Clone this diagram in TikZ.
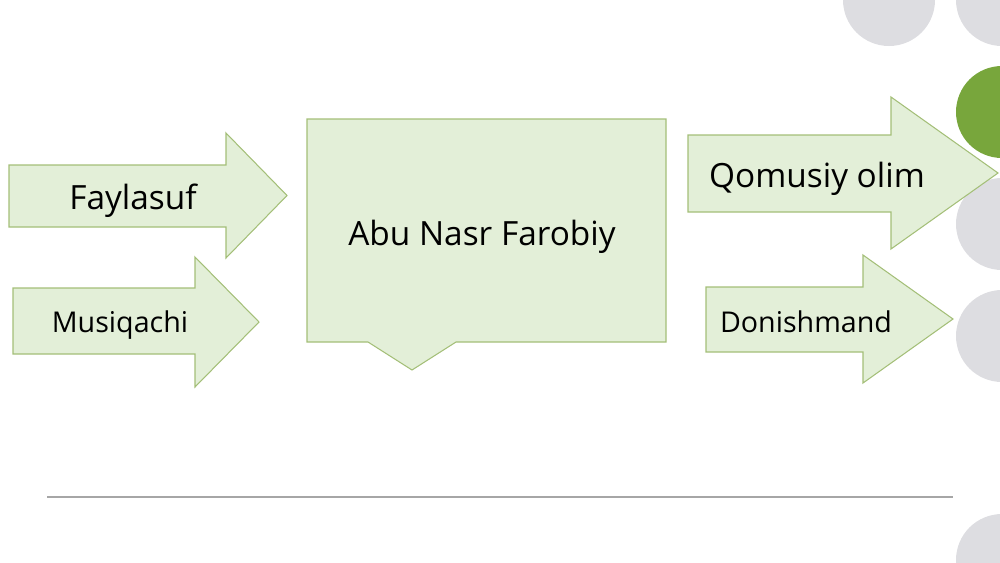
\documentclass[tikz,border=0pt]{standalone}
\usepackage{fontspec}
\setmainfont{Open Sans}
\usepackage{tikz}
\usetikzlibrary{calc,positioning}

\definecolor{leaf}{HTML}{E3EFD8}
\definecolor{leafline}{HTML}{A4BF78}
\definecolor{dotgray}{HTML}{DDDDE1}
\definecolor{dotgreen}{HTML}{78A63C}
\definecolor{rulegray}{HTML}{A6A6A6}

\begin{document}
\begin{tikzpicture}[x=0.02cm,y=-0.02cm,
    leafshape/.style={fill=leaf,draw=leafline,line width=0.6pt,line join=miter},
    big/.style={font=\fontsize{19}{22}\selectfont},
    small/.style={font=\fontsize{16.3}{19}\selectfont}]
        \useasboundingbox (0,0) rectangle (1000,562);

        % decoration dots on the right
        \fill[dotgray] (889,0) circle (46);
        \foreach \y in {0,224,336,560} {
          \fill[dotgray] (1002,\y) circle (46);
        }
        \fill[dotgreen] (1002,112) circle (46);

        % arrows: body left / top / bottom, head base / top / bottom, tip
        \foreach \xl/\yt/\yb/\xh/\ht/\hb/\xt in {9/165/227/226/133/258/287,
                                               13/288/354/195/257/387/259,
                                               688/135/212/891/97/249/998,
                                               706/287/352/863/255/383/953} {
          \draw[leafshape] (\xl,\yt) -- (\xh,\yt) -- (\xh,\ht) -- (\xt,{(\ht+\hb)/2})
            -- (\xh,\hb) -- (\xh,\yb) -- (\xl,\yb) -- cycle;
        }

        % callout box in the middle
        \draw[leafshape] (307,119) -- (666,119) -- (666,342) -- (456,342) -- (412,370)
          -- (368,342) -- (307,342) -- cycle;

        \node[big] (farobiy) at (482,237) {Abu Nasr Farobiy};
        \node[big] (faylasuf) at (133,201) {Faylasuf};
        \node[small] (musiqachi) at (120,325) {Musiqachi};
        \node[big] (qomusiy) at (817,179) {Qomusiy olim};
        \node[small] (donishmand) at (806,322) {Donishmand};

        \coordinate (ruleL) at (47,497);
        \coordinate (ruleR) at (953,497);
        \draw[rulegray,line width=0.8pt] (ruleL) -- (ruleR);
\end{tikzpicture}
\end{document}
